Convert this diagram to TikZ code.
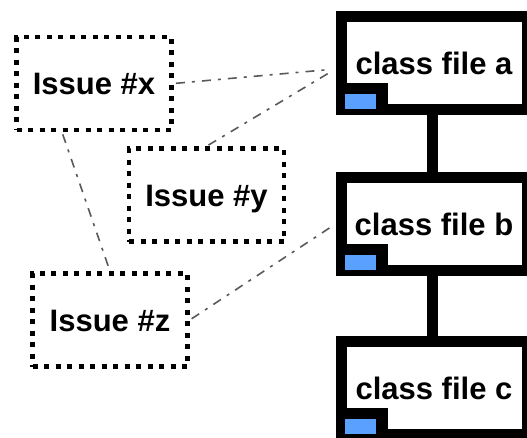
\documentclass[tikz,border=0pt]{standalone}
\usepackage{fontspec}
\setmainfont{Liberation Sans}
\usepackage{xcolor}
\definecolor{tabblue}{RGB}{90,160,255}
\newcommand{\boxfont}{\bfseries\fontsize{31}{36}\selectfont}

\begin{document}
\begin{tikzpicture}[x=1pt,y=-1pt]
	\tikzstyle{class file}=[draw=black,fill=white,line width=11pt,minimum width=186pt,minimum height=93pt,inner sep=0pt,font=\boxfont,text height=22pt,text depth=0pt]
	\tikzstyle{issue}=[draw=black,fill=white,line width=4.5pt,dash pattern=on 5pt off 6.5pt,minimum width=155pt,minimum height=93pt,inner sep=0pt,font=\boxfont,text height=22pt,text depth=0pt]
	\tikzstyle{link}=[line width=11pt,draw=black]
	\tikzstyle{trace}=[draw=black!65,line width=1.6pt,dash pattern=on 9pt off 7pt on 3pt off 7pt,shorten <=2.25pt,shorten >=5.5pt]
	
	\useasboundingbox (0,0) rectangle (527,437);
	
	% Draw class file nodes
	\node[class file] (a) at (434,63) {class file a};
	\node[class file] (b) at (434,224) {class file b};
	\node[class file] (c) at (434,388) {class file c};
	
	% Draw issue nodes
	\node[issue] (x) at (94,83.5) {Issue \#x};
	\node[issue] (y) at (206.5,195) {Issue \#y};
	\node[issue] (z) at (110,320) {Issue \#z};
	
	% Tabs in the lower left corner
	\foreach \name in {a,b,c}{
		\fill[black] ([shift={(5.5pt,5.5pt)}]\name.south west) rectangle +(47pt,27pt);
		\fill[tabblue] ([shift={(9.5pt,6.5pt)}]\name.south west) rectangle +(31pt,15pt);
	}
	
	% Connect class files
	\draw[link] ([xshift=-2pt]a.south) -- ([xshift=-2pt]b.north);
	\draw[link] ([xshift=-2pt]b.south) -- ([xshift=-2pt]c.north);
	
	% Connect issues and class files
	\draw[trace] (x.east) -- ([yshift=-6pt]a.west);
	\draw[trace] (y.north) -- ([yshift=-6pt]a.west);
	\draw[trace] (z.east) -- (b.west);
	\draw[trace,shorten >=2.25pt] ([xshift=-32pt]x.south) -- (z.north);
\end{tikzpicture}
\end{document}
